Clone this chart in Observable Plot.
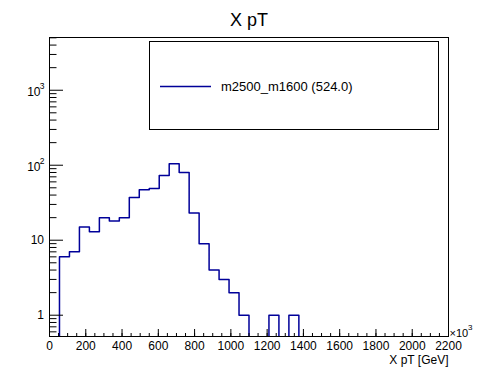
<!DOCTYPE html>
<html><head><meta charset="utf-8">
<script src="https://cdn.jsdelivr.net/npm/d3@7"></script>
<script src="https://cdn.jsdelivr.net/npm/@observablehq/plot@0.6"></script>
<style>
html,body{margin:0;padding:0;background:#fff;}
#chart{width:498px;height:374px;}
</style></head><body><div id="chart"></div>
<script>
const title = "X pT";
const xLabel = "X pT [GeV]";
const xExponentBase = "×10";
const xExponentPower = "3";
const seriesName = "m2500_m1600 (524.0)";
const xMin = 0, xMax = 2200, nBins = 40;
const counts = [0,6,7,15,13,20,18,20,37,47,49,73,105,80,23,9,4,3,2,1,0,0,1,0,1,0,0,0,0,0,0,0,0,0,0,0,0,0,0,0];
const yDomain = [0.52, 5050];
const xMajorTicks = [0,200,400,600,800,1000,1200,1400,1600,1800,2000,2200];
const xTickLabels = ["0","200","400","600","800","1000","1200","1400","1600","1800","2000","2200"];
const yPlainTicks = [1,10];
const yPlainLabels = ["1","10"];
const yPowerTicks = [100,1000];
const yPowerBase = ["10","10"];
const yPowerExp = ["2","3"];
const yMajorTicks = [1,10,100,1000];
const yMinorTicks = [0.6,0.7,0.8,0.9,2,3,4,5,6,7,8,9,20,30,40,50,60,70,80,90,200,300,400,500,600,700,800,900,2000,3000,4000,5000];
const xMinorTicks = d3.range(xMin, xMax + 1, 50);

const binW = (xMax - xMin) / nBins;
const floorVal = yDomain[0] / 10;
const pts = counts.map((c, i) => ({x: xMin + i * binW, y: c > 0 ? c : floorVal}));
pts.push({x: xMax, y: floorVal});

const font = "'Liberation Sans', Arial, Helvetica, sans-serif";
const blue = "#000099";

const plot = Plot.plot({
  width: 498, height: 374,
  marginLeft: 49, marginRight: 50, marginTop: 37, marginBottom: 38,
  style: {fontFamily: font, fontSize: "12px", color: "black", background: "white"},
  x: {domain: [xMin, xMax]},
  y: {type: "log", domain: yDomain},
  marks: [
    Plot.line(pts, {x: "x", y: "y", curve: "step-after", stroke: blue, strokeWidth: 1.5, clip: true}),
    Plot.frame({stroke: "black"}),
    Plot.axisX(xMinorTicks, {anchor: "top", frameAnchor: "bottom", tickSize: 4, fill: "none", label: null}),
    Plot.axisX(xMajorTicks, {anchor: "top", frameAnchor: "bottom", tickSize: 8, fill: "none", label: null}),
    Plot.axisX(xMajorTicks, {anchor: "bottom", tickSize: 0, tickPadding: 5, tickFormat: (d, i) => xTickLabels[i], label: null}),
    Plot.axisY(yMinorTicks, {anchor: "right", frameAnchor: "left", tickSize: 6.5, fill: "none", label: null}),
    Plot.axisY(yMajorTicks, {anchor: "right", frameAnchor: "left", tickSize: 13, fill: "none", label: null}),
    Plot.text(yPlainTicks, {y: d => d, text: (d, i) => yPlainLabels[i], frameAnchor: "left", textAnchor: "end", lineAnchor: "middle", dx: -5.5, fontSize: 12}),
    Plot.text(yPowerTicks, {y: d => d, text: (d, i) => yPowerBase[i], frameAnchor: "left", textAnchor: "end", lineAnchor: "middle", dx: -9, dy: 2, fontSize: 12}),
    Plot.text(yPowerTicks, {y: d => d, text: (d, i) => yPowerExp[i], frameAnchor: "left", textAnchor: "end", lineAnchor: "middle", dx: -5, dy: -3.5, fontSize: 8.5}),
    Plot.text([title], {frameAnchor: "top", lineAnchor: "middle", dy: -17.5, fontSize: 18}),
    Plot.text([xLabel], {frameAnchor: "bottom-right", textAnchor: "end", lineAnchor: "middle", dy: 24, fontSize: 12}),
    Plot.text([xExponentBase], {frameAnchor: "bottom-right", textAnchor: "start", lineAnchor: "middle", dx: 1, dy: -3.5, fontSize: 11}),
    Plot.text([xExponentPower], {frameAnchor: "bottom-right", textAnchor: "start", lineAnchor: "middle", dx: 19.5, dy: -9.5, fontSize: 8})
  ]
});

const svg = d3.select(plot);
const g = svg.append("g");
g.append("rect").attr("x", 149.5).attr("y", 41.5).attr("width", 289).attr("height", 88)
  .attr("fill", "white").attr("stroke", "black");
g.append("line").attr("x1", 160).attr("x2", 211).attr("y1", 86.5).attr("y2", 86.5)
  .attr("stroke", blue).attr("stroke-width", 1.5);
g.append("text").attr("x", 221).attr("y", 86).attr("dy", "0.35em").attr("text-anchor", "start")
  .attr("font-size", 13).attr("font-family", font).attr("fill", "black").text(seriesName);

document.getElementById("chart").appendChild(plot);
</script></body></html>
